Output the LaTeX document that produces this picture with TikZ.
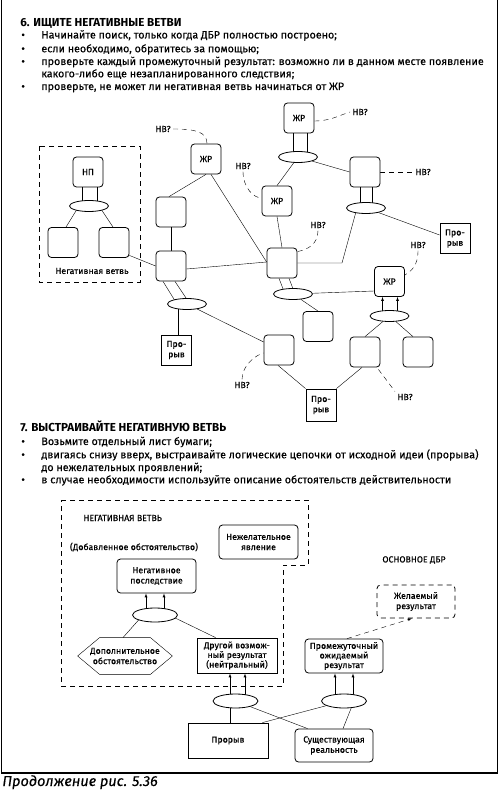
\documentclass[tikz,border=0pt]{standalone}
\usepackage{fontspec}
\setmainfont{Fira Sans}[FakeBold=0.3, BoldFeatures={FakeBold=0}]
\usetikzlibrary{shapes.geometric,backgrounds}

\begin{document}
\begin{tikzpicture}[
    x = 1pt, y = -1pt,
    line width = 0.8pt,
    every node/.style = {font=\fontsize{8.8}{10.3}\selectfont, align=center, inner sep=0pt},
    rbox/.style   = {draw, fill=white, rounded corners=3.5pt, minimum width=30, minimum height=30},
    sbox/.style   = {draw, fill=white, minimum width=30, minimum height=30},
    wbox/.style   = {rbox, minimum width=79, minimum height=34},
    oval/.style   = {draw, fill=white, ellipse, minimum width=39, minimum height=11},
    bigoval/.style = {oval, minimum width=45, minimum height=14},
    hvlab/.style  = {inner sep=2pt},
    hvline/.style = {dash pattern=on 5pt off 4pt},
    hvbox/.style  = {dash pattern=on 5pt off 4pt},
    arr/.style    = {-latex},
    txt/.style    = {anchor=base west, align=left, font=\fontsize{10.7}{12}\selectfont}
  ]
\useasboundingbox (0,0) rectangle (500,791);
\draw[line width=1.2pt] (1.5,0) -- (1.5,773) -- (497.5,773) -- (497.5,0);

% section 6 text
\node[txt, font=\bfseries\fontsize{11.6}{13}\selectfont] (h6) at (20,26.5) {6. ИЩИТЕ НЕГАТИВНЫЕ ВЕТВИ};
\foreach \y [count=\i] in {38.5,52.3,65,90}
  \node[txt] (dot6\i) at (21,\y) {•};
\node[txt] (t61) at (41,38.5) {Начинайте поиск, только когда ДБР полностью построено;};
\node[txt] (t62) at (41,52.3) {если необходимо, обратитесь за помощью;};
\node[txt] (t63) at (41,65) {проверьте каждый промежуточный результат: возможно ли в данном месте появление};
\node[txt] (t64) at (41,77.3) {какого-либо еще незапланированного следствия;};
\node[txt] (t65) at (41,90) {проверьте, не может ли негативная ветвь начинаться от ЖР};

% top tree
\draw[hvbox] (39,146) rectangle (140,282);
\node (nvlab) at (92,271) {Негативная ветвь};
\node[rbox] (np) at (88,172) {НП};
\node[oval] (enp) at (89,206) {};
\node[rbox] (npl) at (63,242.5) {};
\node[rbox] (npr) at (114,242.5) {};

\node[rbox] (zr1) at (206,159) {ЖР};
\node[hvlab] (hv1) at (163,129) {НВ?};
\node[rbox] (a1) at (171,212) {};
\node[rbox] (a2) at (171,266) {};
\node[oval] (ea2) at (187,304) {};
\node[sbox] (pr1) at (176.5,350) {Про-\\рыв};
\node[rbox] (b1) at (279,350) {};
\node[hvlab] (hv4) at (242,385) {НВ?};
\node[sbox, minimum height=32] (pr2) at (321,405) {Про-\\рыв};

\node[rbox] (zr4) at (299,118) {ЖР};
\node[hvlab] (hv5) at (360,112) {НВ?};
\node[oval] (ezr4) at (298,157) {};
\node[rbox] (zr2) at (277,201) {ЖР};
\node[hvlab] (hv2) at (243,166) {НВ?};
\node[rbox] (c) at (282,263) {};
\node[hvlab] (hv3) at (318,225) {НВ?};
\node[oval] (ec) at (293,294) {};
\node[rbox] (d) at (318,326.5) {};
\node[rbox] (g) at (365,172) {};
\node[hvlab] (hv6) at (423,172) {НВ?};
\node[oval] (eg) at (366,208) {};
\node[sbox] (pr3) at (455,238.5) {Про-\\рыв};
\node[hvlab] (hv7) at (418,245) {НВ?};
\node[rbox] (zr3) at (389.5,281.5) {ЖР};
\node[oval] (ezr3) at (389.5,316) {};
\node[rbox] (f1) at (365,352) {};
\node[rbox] (f2) at (418,352) {};
\node[hvlab] (hv8) at (405,397) {НВ?};
\coordinate (kc) at (342,263);

% section 7 text
\node[txt, font=\bfseries\fontsize{11.6}{13}\selectfont] (h7) at (20,431.7) {7. ВЫСТРАИВАЙТЕ НЕГАТИВНУЮ ВЕТВЬ};
\foreach \y [count=\i] in {445,458.3,483.3}
  \node[txt] (dot7\i) at (21,\y) {•};
\node[txt] (t71) at (41,445) {Возьмите отдельный лист бумаги;};
\node[txt] (t72) at (41,458.3) {двигаясь снизу вверх, выстраивайте логические цепочки от исходной идеи (прорыва)};
\node[txt] (t73) at (41,471) {до нежелательных проявлений;};
\node[txt] (t74) at (41,483.3) {в случае необходимости используйте описание обстоятельств действительности};

% bottom tree
\draw[hvbox] (61,500) -- (308,500) -- (308,565) -- (283,565) -- (283,686) -- (61,686) -- cycle;
\node[anchor=base west] (nvtitle) at (83,521) {НЕГАТИВНАЯ ВЕТВЬ};
\node (dobav) at (134,547) {(Добавленное обстоятельство)};
\node[wbox] (nezh) at (258.5,542) {Нежелательное\\явление};
\node[wbox] (negp) at (156.5,576) {Негативное\\последствие};
\node[bigoval] (eneg) at (155,615) {};
\node[minimum width=94, minimum height=36] (hex) at (125,656) {Дополнительное\\обстоятельство};
\node[sbox, minimum width=80, minimum height=35, font=\fontsize{8.8}{9.6}\selectfont] (drug) at (237,655.5) {Другой возмож-\\ный результат\\(нейтральный)};
\node[bigoval] (edr) at (235.5,701) {};
\node[sbox, minimum width=80, minimum height=35] (prb) at (228,740.5) {Прорыв};
\node[wbox, minimum width=78, minimum height=33] (sush) at (334,745.5) {Существующая\\реальность};
\node[bigoval] (epm) at (344,701) {};
\node[wbox, minimum width=78, font=\fontsize{8.8}{9.6}\selectfont] (prom) at (344,656) {Промежуточный\\ожидаемый\\результат};
\node[wbox, hvbox, minimum width=78, minimum height=33] (zhel) at (416,601.5) {Желаемый\\результат};
\node (osn) at (414,560) {ОСНОВНОЕ ДБР};

\node[anchor=base west, font=\itshape\fontsize{14.5}{16}\selectfont] (cap) at (2,786) {Продолжение рис. 5.36};

\begin{scope}[on background layer]
% top tree connectors
\draw ([xshift=-6]np.south) -- ([xshift=-6]np.south |- enp.center)
      ([xshift=9]np.south) -- ([xshift=9]np.south |- enp.center);
\draw ([xshift=-10]enp.center) -- ([xshift=3]npl.north);
\draw ([xshift=10]enp.center) -- ([xshift=-1]npr.north);
\draw (npr.-40) -- (a2.west);
\draw (zr1.south) -- ([xshift=-2]a1.north);
\draw ([xshift=5]zr1.south) -- ([yshift=1]c.west);
\draw (a1) -- (a2);
\draw ([yshift=-3]a2.east) -- ([yshift=1]c.west);
\draw ([xshift=-8]a2.south) -- ([xshift=-10]ea2.center)
      ([xshift=4]a2.south) -- ([xshift=3]ea2.center);
\draw ([xshift=1.5]pr1.north) -- ([xshift=1.5]pr1.north |- ea2.center);
\draw (ea2) -- ([yshift=8]b1.west);
\draw ([xshift=-1]b1.south) -- (pr2.north west);
\draw (pr2.north east) -- ([xshift=-3]f1.south);
\draw ([xshift=-6]zr4.south) -- ([xshift=-6]zr4.south |- ezr4.center)
      ([xshift=8]zr4.south) -- ([xshift=8]zr4.south |- ezr4.center);
\draw (ezr4) -- (zr2.north);
\draw (ezr4) -- (g.west);
\draw (zr2.south) -- (c.north);
\draw ([xshift=-3]c.south) -- ([xshift=-8]ec.center)
      ([xshift=7]c.south) -- ([xshift=2]ec.center);
\draw (ec) -- ([yshift=-9.5]zr3.west);
\draw (ec) -- (d.north);
\draw (c.east) -- (kc) -- ([xshift=-9]eg.center);
\draw ([xshift=-5]g.south) -- ([xshift=-5]g.south |- eg.center)
      ([xshift=7]g.south) -- ([xshift=7]g.south |- eg.center);
\draw (eg) -- ([yshift=3.5]pr3.west);
\draw[arr] ([xshift=-7]zr3.south |- ezr3.center) -- ([xshift=-7]zr3.south);
\draw[arr] ([xshift=8]zr3.south |- ezr3.center) -- ([xshift=8]zr3.south);
\draw (ezr3) -- (f1.north);
\draw (ezr3) -- ([xshift=-5]f2.north);
\draw[hvline] (hv1.east) .. controls +(22,0) and +(0,-12) .. ([xshift=1]zr1.north);
\draw[hvline] (hv2.south) .. controls +(0,16) and +(-8,0) .. ([yshift=3]zr2.west);
\draw[hvline] (hv3.south) .. controls +(0,14) and +(10,-2) .. ([yshift=-4]c.north east);
\draw[hvline] (hv4.north) .. controls +(0,-14) and +(-8,2) .. ([yshift=-3]b1.west);
\draw[hvline] ([yshift=-3]zr4.east) .. controls +(16,0) and +(-10,3) .. (hv5.west);
\draw[hvline] (g.east) -- (hv6.west);
\draw[hvline] (hv7.south) .. controls +(0,16) and +(6,-4) .. ([yshift=6.5]zr3.east);
\draw[hvline] ([xshift=-2,yshift=-2]f1.south east) -- (hv8.north west);
% bottom tree connectors
\draw (hex.west) -- ([xshift=22]hex.north west) -- ([xshift=-22]hex.north east) -- (hex.east)
      -- ([xshift=-22]hex.south east) -- ([xshift=22]hex.south west) -- cycle;
\draw[arr] ([xshift=-9]eneg.center) -- ([xshift=-9]eneg.center |- negp.south);
\draw[arr] ([xshift=9]eneg.center) -- ([xshift=9]eneg.center |- negp.south);
\draw ([xshift=-12]eneg.center) -- ([xshift=-2]hex.north);
\draw ([xshift=14]eneg.center) -- ([xshift=19]drug.north west);
\draw[arr] ([xshift=-7]drug.south |- edr.center) -- ([xshift=-7]drug.south);
\draw[arr] ([xshift=8]drug.south |- edr.center) -- ([xshift=8]drug.south);
\draw ([xshift=2]prb.north) -- ([xshift=2]prb.north |- edr.center);
\draw (edr) -- ([xshift=13]sush.north west);
\draw (epm) -- ([xshift=-6]prb.north east);
\draw ([xshift=9]sush.north) -- ([xshift=10]epm.center);
\draw[arr] ([xshift=-9]epm.center) -- ([xshift=-9]epm.center |- prom.south);
\draw[arr] ([xshift=9]epm.center) -- ([xshift=9]epm.center |- prom.south);
\draw[arr, hvline] ([xshift=3]prom.north) -- ([xshift=-4]zhel.south);
\end{scope}
\end{tikzpicture}
\end{document}
